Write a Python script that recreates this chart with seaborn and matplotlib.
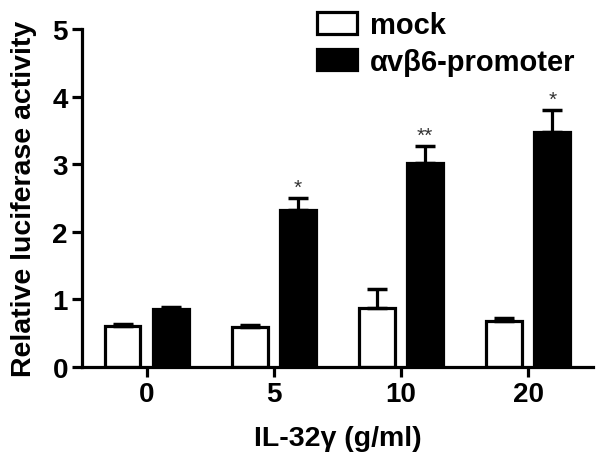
import matplotlib
matplotlib.use("Agg")
import matplotlib.pyplot as plt
import seaborn as sns
import pandas as pd
import numpy as np
from matplotlib.patches import Patch

categories = ["0", "5", "10", "20"]
groups = ["mock", "αvβ6-promoter"]
mock_vals = [0.60, 0.59, 0.87, 0.68]
mock_err = [0.04, 0.03, 0.28, 0.05]
prom_vals = [0.86, 2.33, 3.02, 3.47]
prom_err = [0.03, 0.17, 0.25, 0.33]
stars = ["", "*", "**", "*"]

df = pd.DataFrame({
    "dose": categories * 2,
    "group": [groups[0]] * 4 + [groups[1]] * 4,
    "value": mock_vals + prom_vals,
})

sns.set_style("ticks", {"axes.edgecolor": "black", "text.color": "black",
                        "axes.labelcolor": "black", "xtick.color": "black",
                        "ytick.color": "black"})
plt.rcParams["font.family"] = ["Liberation Sans", "DejaVu Sans"]
plt.rcParams["font.weight"] = "bold"

fig = plt.figure(figsize=(6.02, 4.56), dpi=100)
ax = fig.add_axes([0.136, 0.193, 0.849, 0.741])

sns.barplot(data=df, x="dose", y="value", hue="group", order=categories,
            hue_order=groups, palette=["white", "black"], errorbar=None,
            width=0.76, gap=0.26, edgecolor="black", linewidth=2.3,
            legend=False, ax=ax)

errs = [mock_err, prom_err]
vals = [mock_vals, prom_vals]
bar_containers = list(ax.containers)
for ci, cont in enumerate(bar_containers):
    for bi, bar in enumerate(cont.patches):
        xc = bar.get_x() + bar.get_width() / 2
        v = vals[ci][bi]
        e = errs[ci][bi]
        ax.errorbar([xc], [v], yerr=[[0], [e]], color="black", elinewidth=2.3,
                    capsize=7.5, capthick=2.5, zorder=1)
        if ci == 1 and stars[bi]:
            ax.text(xc, v + e + 0.02, stars[bi], ha="center", va="bottom",
                    fontsize=15, fontweight="normal", color="#333333")

ax.set_xlim(-0.51, 3.51)
ax.set_ylim(0, 5)
ax.set_yticks([0, 1, 2, 3, 4, 5])
sns.despine(ax=ax)
for s in ["left", "bottom"]:
    ax.spines[s].set_linewidth(2.3)
    ax.spines[s].set_color("black")
ax.tick_params(axis="both", width=2.3, length=7, labelsize=20, pad=3,
               colors="black")
for lab in ax.get_xticklabels() + ax.get_yticklabels():
    lab.set_fontweight("bold")
ax.set_xlabel("IL-32γ (g/ml)", fontsize=20.5, fontweight="bold", labelpad=13,
              color="black")
ax.set_ylabel("Relative luciferase activity", fontsize=20.5, fontweight="bold",
              labelpad=11, color="black")

handles = [Patch(facecolor="white", edgecolor="black", linewidth=2.3),
           Patch(facecolor="black", edgecolor="black", linewidth=2.3)]
leg = fig.legend(handles, groups, loc="upper left",
                 bbox_to_anchor=(317 / 602, 1 - 12 / 456),
                 frameon=False, prop={"weight": "bold", "size": 21},
                 borderpad=0, borderaxespad=0,
                 handlelength=1.38, handleheight=0.76, handletextpad=0.45,
                 labelspacing=0.3)
for t in leg.get_texts():
    t.set_color("black")

fig.savefig("out.png", dpi=100)
